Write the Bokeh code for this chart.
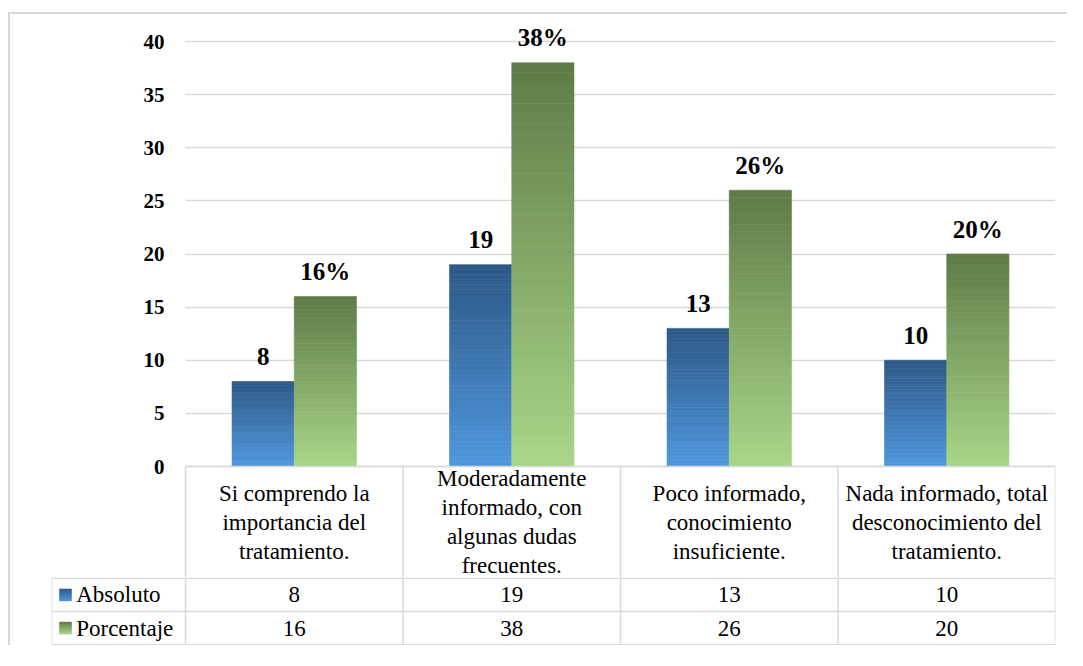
from bokeh.plotting import figure
from bokeh.layouts import column
from bokeh.models import Range1d, FixedTicker
from bokeh.embed import file_html
from bokeh.resources import INLINE
from bokeh.core.properties import value

# ---------------- data ----------------
categories = [
    "Si comprendo la\nimportancia del\ntratamiento.",
    "Moderadamente\ninformado, con\nalgunas dudas\nfrecuentes.",
    "Poco informado,\nconocimiento\ninsuficiente.",
    "Nada informado, total\ndesconocimiento del\ntratamiento.",
]
series_names = ["Absoluto", "Porcentaje"]
absoluto = [8, 19, 13, 10]
porcentaje = [16, 38, 26, 20]
absoluto_labels = [str(v) for v in absoluto]
porcentaje_labels = [f"{v}%" for v in porcentaje]
y_ticks = [0, 5, 10, 15, 20, 25, 30, 35, 40]

# ---------------- style ----------------
FONT = "Liberation Serif"
GRID = "#d9d9d9"
BLUE_TOP, BLUE_BOT = "#2d5886", "#4f97de"
GREEN_TOP, GREEN_BOT = "#5e7b47", "#a9d688"
N_STRIPS = 40
BAR_W = 0.286
W = 1057
CAT_PX = 217.5
LEG_COL = 134 / CAT_PX
PX_PER_UNIT = 10.625
TOP_H = 563
TOP_BORDER = 5
Y_TOP = 40 + 22 / PX_PER_UNIT
Y_BOT = Y_TOP - (TOP_H - TOP_BORDER) / PX_PER_UNIT
HDR_U = -Y_BOT
ROW = 33.2


def hex2rgb(h):
    h = h.lstrip("#")
    return tuple(int(h[i:i + 2], 16) for i in (0, 2, 4))


def blend(c1, c2, t):
    a, b = hex2rgb(c1), hex2rgb(c2)
    return "#%02x%02x%02x" % tuple(round(a[i] + (b[i] - a[i]) * t) for i in range(3))


n = len(categories)

# ---------------- bar chart + header row of the table ----------------
p = figure(width=W, height=TOP_H, x_range=Range1d(-LEG_COL, n), y_range=Range1d(Y_BOT, Y_TOP),
           output_backend="svg", toolbar_location=None, x_axis_location=None,
           min_border_left=41, min_border_right=12, min_border_top=TOP_BORDER, min_border_bottom=0)
p.outline_line_color = None
p.xgrid.visible = False
p.ygrid.grid_line_color = GRID
p.ygrid.grid_line_width = 1.5
p.ygrid.ticker = FixedTicker(ticks=y_ticks)
try:
    p.ygrid.cross_bounds = (0, n)
    grid_ok = True
except AttributeError:
    grid_ok = False
if not grid_ok:
    p.ygrid.visible = False
    p.segment(x0=[0] * len(y_ticks), y0=y_ticks, x1=[n] * len(y_ticks), y1=y_ticks,
              line_color=GRID, line_width=1.5)

p.yaxis.ticker = FixedTicker(ticks=y_ticks)
p.yaxis.fixed_location = 0
p.yaxis.axis_line_color = None
p.yaxis.major_tick_line_color = None
p.yaxis.minor_tick_line_color = None
p.yaxis.major_tick_out = 0
p.yaxis.major_tick_in = 0
p.yaxis.major_label_standoff = 21
p.yaxis.major_label_text_font = FONT
p.yaxis.major_label_text_font_style = "bold"
p.yaxis.major_label_text_font_size = "21px"
p.yaxis.major_label_text_color = "black"

series = [
    (absoluto, absoluto_labels, -BAR_W / 2, BLUE_TOP, BLUE_BOT),
    (porcentaje, porcentaje_labels, BAR_W / 2, GREEN_TOP, GREEN_BOT),
]
for vals, labels, off, ctop, cbot in series:
    L, R, B, T, C = [], [], [], [], []
    xs = []
    for i, v in enumerate(vals):
        xc = i + 0.5 + off
        xs.append(xc)
        for k in range(N_STRIPS):
            L.append(xc - BAR_W / 2)
            R.append(xc + BAR_W / 2)
            B.append(v * k / N_STRIPS)
            T.append(v * (k + 1) / N_STRIPS)
            C.append(blend(cbot, ctop, (k + 0.5) / N_STRIPS))
    p.quad(left=L, right=R, bottom=B, top=T, fill_color=C, line_color=C, line_width=0.6)
    p.text(x=xs, y=vals, text=labels, text_align="center", text_baseline="alphabetic",
           y_offset=-25, text_font=value(FONT), text_font_style="bold",
           text_font_size="25px", text_color="black")

# header row of the data table (category names)
hx = list(range(n + 1))
p.segment(x0=hx, y0=[-HDR_U] * (n + 1), x1=hx, y1=[0] * (n + 1), line_color=GRID, line_width=1.5)
p.segment(x0=[0], y0=[0], x1=[n], y1=[0], line_color=GRID, line_width=1.5)
centers = [i + 0.5 for i in range(n)]
p.text(x=centers, y=[-HDR_U / 2] * n, text=categories, text_align="center", text_baseline="middle",
       text_line_height=1.16, text_font=value(FONT), text_font_size="23px", text_color="black")

# ---------------- data rows of the table ----------------
t = figure(width=W, height=68, x_range=Range1d(-LEG_COL, n), y_range=Range1d(2 * ROW + 0.8, -0.8),
           output_backend="svg", toolbar_location=None, x_axis_location=None, y_axis_location=None,
           min_border_left=41, min_border_right=12, min_border_top=0, min_border_bottom=0)
t.outline_line_color = None
t.xgrid.visible = False
t.ygrid.visible = False

vx = [-LEG_COL] + list(range(n + 1))
t.segment(x0=vx, y0=[0] * len(vx), x1=vx, y1=[2 * ROW] * len(vx), line_color=GRID, line_width=1.5)
hy = [0, ROW, 2 * ROW]
t.segment(x0=[-LEG_COL] * 3, y0=hy, x1=[n] * 3, y1=hy, line_color=GRID, line_width=1.5)

row_y = [ROW / 2, 1.5 * ROW]
for ry, vals in zip(row_y, [absoluto, porcentaje]):
    t.text(x=centers, y=[ry] * n, text=[str(v) for v in vals], text_align="center",
           text_baseline="middle", text_font=value(FONT), text_font_size="23px", text_color="black")

key_x = -LEG_COL + 14 / CAT_PX
for ry, (ctop, cbot), name in zip(row_y, [(BLUE_TOP, BLUE_BOT), (GREEN_TOP, GREEN_BOT)], series_names):
    ks = 6
    for k in range(ks):
        yy = ry - 6 + (k + 0.5) * 12 / ks
        col = blend(ctop, cbot, (k + 0.5) / ks)
        t.rect(x=[key_x], y=[yy], width=12, height=12 / ks, width_units="screen",
               height_units="screen", fill_color=col, line_color=col, line_width=0.5)
    t.text(x=[-LEG_COL + 24.7 / CAT_PX], y=[ry], text=[name], text_align="left", text_baseline="middle",
           text_font=value(FONT), text_font_size="23px", text_color="black")

inner = column(p, t, spacing=0,
               styles={"border-left": "2px solid #d9d9d9", "border-top": "2px solid #d9d9d9"})
layout = column(inner, spacing=0, styles={"padding-left": "8px", "padding-top": "12px"})

open("out.html", "w").write(file_html(layout, INLINE))
